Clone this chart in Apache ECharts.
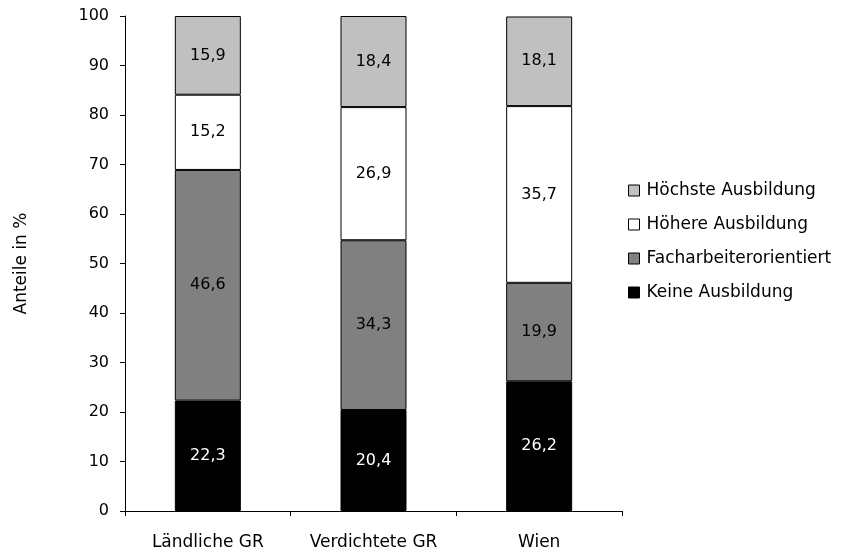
<!DOCTYPE html>
<html><head><meta charset="utf-8">
<script src="https://cdn.jsdelivr.net/npm/echarts@6/dist/echarts.min.js"></script>
<style>html,body{margin:0;padding:0;background:#fff}#c{width:857px;height:557px}</style>
</head><body><div id="c"></div>
<script>
var categories = ['Ländliche GR', 'Verdichtete GR', 'Wien'];
var keine = [22.3, 20.4, 26.2];
var facharbeiter = [46.6, 34.3, 19.9];
var hoehere = [15.2, 26.9, 35.7];
var hoechste = [15.9, 18.4, 18.1];
var yTicks = [0, 10, 20, 30, 40, 50, 60, 70, 80, 90, 100];

var font = '"DejaVu Sans", sans-serif';
function mk(name, data, color, labelColor) {
  return {
    name: name, type: 'bar', stack: 'a', data: data, barWidth: 66,
    itemStyle: { color: color, borderColor: '#000', borderWidth: 1 },
    label: { show: true, position: 'inside', color: labelColor, fontSize: 16, fontFamily: font,
      formatter: function (p) { return p.value.toFixed(1).replace('.', ','); } }
  };
}
var chart = echarts.init(document.getElementById('c'));
chart.setOption({
  animation: false,
  textStyle: { fontFamily: font },
  grid: { left: 125, right: 235, top: 16, bottom: 46, containLabel: false },
  xAxis: {
    type: 'category', data: categories,
    axisLine: { lineStyle: { color: '#000', width: 1 } },
    axisTick: { show: true, interval: 0, length: 5, lineStyle: { color: '#000' } },
    axisLabel: { color: '#000', fontSize: 17, margin: 23, interval: 0, hideOverlap: false, fontFamily: font }
  },
  yAxis: {
    type: 'value', min: yTicks[0], max: yTicks[yTicks.length - 1], interval: 10,
    name: 'Anteile in %', nameLocation: 'middle', nameGap: 95, nameRotate: 90,
    nameTextStyle: { color: '#000', fontSize: 17, fontFamily: font },
    axisLine: { show: true, lineStyle: { color: '#000', width: 1 } },
    axisTick: { show: true, length: 5, lineStyle: { color: '#000' } },
    splitLine: { show: false },
    axisLabel: { color: '#000', fontSize: 16, margin: 16, fontFamily: font }
  },
  legend: {
    orient: 'vertical', left: 628, top: 182, itemWidth: 11, itemHeight: 11, itemGap: 17,
    icon: 'rect', padding: 0,
    data: ['Höchste Ausbildung', 'Höhere Ausbildung', 'Facharbeiterorientiert', 'Keine Ausbildung'],
    textStyle: { color: '#000', fontSize: 17, fontFamily: font, padding: [0, 0, 0, 2] },
    itemStyle: { borderColor: '#000', borderWidth: 1 }
  },
  series: [
    mk('Keine Ausbildung', keine, '#000000', '#fff'),
    mk('Facharbeiterorientiert', facharbeiter, '#808080', '#000'),
    mk('Höhere Ausbildung', hoehere, '#ffffff', '#000'),
    mk('Höchste Ausbildung', hoechste, '#c0c0c0', '#000')
  ]
});
</script></body></html>
